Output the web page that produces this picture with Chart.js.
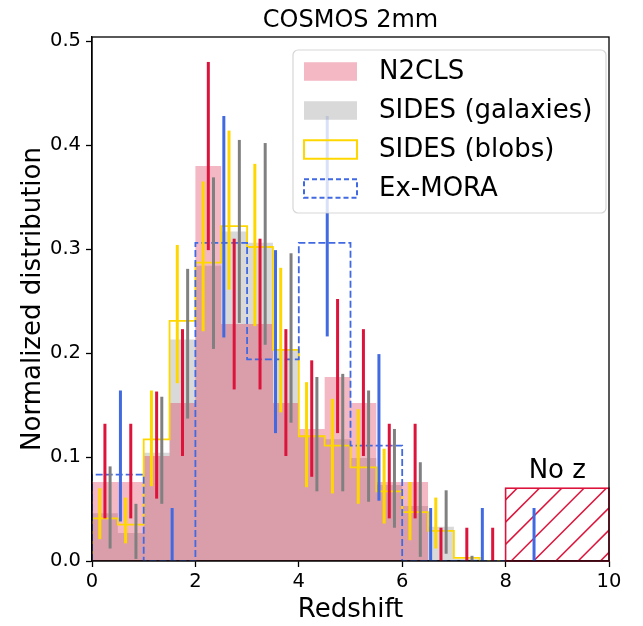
<!DOCTYPE html>
<html lang="en">
<head>
  <meta charset="UTF-8">
  <title>COSMOS 2mm</title>
  <script src="https://cdn.jsdelivr.net/npm/chart.js"></script>
  <style>
    html, body { margin: 0; padding: 0; background: #fff; }
    canvas { display: block; }
  </style>
</head>
<body>
  <canvas id="zChart" width="643" height="626"></canvas>

  <script>
    // histogram bin edges
    const edgesFine = [0, 0.5, 1, 1.5, 2, 2.5, 3, 3.5, 4, 4.5, 5, 5.5, 6, 6.5, 7, 7.5, 8];
    const edgesCoarse = [0, 1, 2, 3, 4, 5, 6, 7, 8];

    // normalized distributions
    const n2cls         = [0.076, 0.076, 0.101, 0.152, 0.380, 0.228, 0.228, 0.152, 0.127, 0.177, 0.152, 0.076, 0.076, 0, 0, 0];
    const sidesGalaxies = [0.046, 0.027, 0.104, 0.213, 0.284, 0.317, 0.306, 0.203, 0.121, 0.117, 0.099, 0.073, 0.053, 0.033, 0.002, 0];
    const sidesBlobs    = [0.041, 0.035, 0.117, 0.231, 0.287, 0.322, 0.302, 0.203, 0.120, 0.111, 0.090, 0.067, 0.047, 0.029, 0.003, 0];
    const exMora        = [0.083, 0, 0.306, 0.194, 0.306, 0.111, 0, 0];

    // error bars (position, lower, upper)
    const n2clsErrX  = [0.25, 0.75, 1.25, 1.75, 2.25, 2.75, 3.25, 3.75, 4.25, 4.75, 5.25, 5.75, 6.25, 6.75, 7.25, 7.75];
    const n2clsErrLo = [0.041, 0.041, 0.060, 0.101, 0.299, 0.165, 0.165, 0.101, 0.081, 0.123, 0.101, 0.041, 0.041, 0, 0, 0];
    const n2clsErrHi = [0.132, 0.132, 0.163, 0.223, 0.480, 0.310, 0.310, 0.223, 0.193, 0.252, 0.223, 0.132, 0.132, 0.032, 0.032, 0.032];

    const galErrX  = [0.35, 0.85, 1.35, 1.85, 2.35, 2.85, 3.35, 3.85, 4.35, 4.85, 5.35, 5.85, 6.35, 6.85, 7.35];
    const galErrLo = [0.012, 0.002, 0.055, 0.137, 0.204, 0.229, 0.208, 0.133, 0.067, 0.067, 0.057, 0.032, 0.004, 0.007, 0];
    const galErrHi = [0.091, 0.055, 0.158, 0.281, 0.369, 0.405, 0.402, 0.296, 0.177, 0.180, 0.164, 0.127, 0.095, 0.068, 0.005];

    const blobErrX  = [0.15, 0.65, 1.15, 1.65, 2.15, 2.65, 3.15, 3.65, 4.15, 4.65, 5.15, 5.65, 6.15, 6.65];
    const blobErrLo = [0.021, 0.017, 0.072, 0.171, 0.221, 0.261, 0.226, 0.143, 0.071, 0.065, 0.055, 0.036, 0.020, 0.012];
    const blobErrHi = [0.070, 0.061, 0.164, 0.304, 0.365, 0.414, 0.382, 0.282, 0.172, 0.156, 0.146, 0.108, 0.076, 0.061];

    const moraErrX  = [0.55, 1.55, 2.55, 3.55, 4.55, 5.55, 6.55, 7.55, 8.55];
    const moraErrLo = [0.038, 0, 0.215, 0.123, 0.216, 0.058, 0, 0, 0];
    const moraErrHi = [0.164, 0.051, 0.428, 0.299, 0.428, 0.199, 0.051, 0.051, 0.051];

    // sources without redshift
    const noZRange = [8, 10];
    const noZValue = 0.07;

    const xTicks = [0, 2, 4, 6, 8, 10];
    const yTicks = [0, 0.1, 0.2, 0.3, 0.4, 0.5];

    const CRIMSON = '#dc143c';
    const GOLD = '#ffd700';
    const ROYAL = '#4169e1';
    const GRAY = '#808080';
    const FONT = "'DejaVu Sans', sans-serif";

    // step points for stepped: 'before' (horizontal at the bin value, then vertical)
    function stepFill(edges, vals) {
      const pts = vals.map((v, i) => ({ x: edges[i], y: v }));
      pts.push({ x: edges[vals.length], y: vals[vals.length - 1] });
      return pts;
    }
    function stepOutline(edges, vals) {
      const pts = [{ x: edges[0], y: 0 }];
      vals.forEach((v, i) => pts.push({ x: edges[i], y: v }));
      pts.push({ x: edges[vals.length], y: 0 });
      return pts;
    }

    const errorSets = [
      { xs: n2clsErrX, lo: n2clsErrLo, hi: n2clsErrHi, color: CRIMSON },
      { xs: galErrX, lo: galErrLo, hi: galErrHi, color: GRAY },
      { xs: blobErrX, lo: blobErrLo, hi: blobErrHi, color: GOLD },
      { xs: moraErrX, lo: moraErrLo, hi: moraErrHi, color: ROYAL }
    ];

    const legendItems = [
      { label: 'N2CLS', fill: 'rgba(220,20,60,0.3)' },
      { label: 'SIDES (galaxies)', fill: 'rgba(128,128,128,0.3)' },
      { label: 'SIDES (blobs)', stroke: GOLD },
      { label: 'Ex-MORA', stroke: ROYAL, dash: [5, 3] }
    ];

    const extras = {
      id: 'extras',
      afterDatasetsDraw(chart) {
        const { ctx, chartArea: a, scales: { x, y } } = chart;
        ctx.save();

        // hatched No z box
        const hx0 = x.getPixelForValue(noZRange[0]), hx1 = x.getPixelForValue(noZRange[1]);
        const hyb = y.getPixelForValue(0), hyt = y.getPixelForValue(noZValue);
        ctx.save();
        ctx.beginPath();
        ctx.rect(hx0, hyt, hx1 - hx0, hyb - hyt);
        ctx.clip();
        ctx.strokeStyle = CRIMSON;
        ctx.lineWidth = 1.5;
        for (let c = hx0 + hyt + 11.5 - 22.3 * 6; c < hx1 + hyb + 22; c += 22.3) {
          ctx.beginPath();
          ctx.moveTo(c - hyb, hyb);
          ctx.lineTo(c - hyt, hyt);
          ctx.stroke();
        }
        ctx.restore();
        ctx.strokeStyle = CRIMSON;
        ctx.lineWidth = 1.6;
        ctx.strokeRect(hx0, hyt, hx1 - hx0, hyb - hyt);

        ctx.fillStyle = '#000';
        ctx.font = '26px ' + FONT;
        ctx.textAlign = 'center';
        ctx.textBaseline = 'alphabetic';
        ctx.fillText('No z', (hx0 + hx1) / 2, hyt - 10);

        // error bars
        ctx.lineWidth = 3;
        ctx.lineCap = 'butt';
        errorSets.forEach(s => {
          ctx.strokeStyle = s.color;
          s.xs.forEach((xv, i) => {
            const px = x.getPixelForValue(xv);
            ctx.beginPath();
            ctx.moveTo(px, y.getPixelForValue(s.lo[i]));
            ctx.lineTo(px, y.getPixelForValue(s.hi[i]));
            ctx.stroke();
          });
        });

        // legend
        const lx = a.right - 316, ly = a.top + 13, lw = 313, lh = 163;
        ctx.beginPath();
        ctx.roundRect(lx, ly, lw, lh, 5);
        ctx.fillStyle = 'rgba(255,255,255,0.8)';
        ctx.fill();
        ctx.strokeStyle = 'rgba(204,204,204,0.8)';
        ctx.lineWidth = 1.2;
        ctx.stroke();
        ctx.font = '26px ' + FONT;
        ctx.textAlign = 'left';
        ctx.textBaseline = 'middle';
        legendItems.forEach((it, i) => {
          const cy = ly + 21.5 + i * 39;
          const bx = lx + 11, bw = 53, bh = 18.5;
          if (it.fill) {
            ctx.fillStyle = it.fill;
            ctx.fillRect(bx, cy - bh / 2, bw, bh);
          } else {
            ctx.strokeStyle = it.stroke;
            ctx.lineWidth = 2;
            ctx.setLineDash(it.dash || []);
            ctx.strokeRect(bx, cy - bh / 2, bw, bh);
            ctx.setLineDash([]);
          }
          ctx.fillStyle = '#000';
          ctx.fillText(it.label, lx + 86, cy + 1);
        });

        ctx.restore();
      },
      afterDraw(chart) {
        const { ctx, chartArea: a } = chart;
        ctx.save();
        ctx.strokeStyle = '#000';
        ctx.lineWidth = 1.3;
        ctx.strokeRect(a.left, a.top, a.right - a.left, a.bottom - a.top);

        ctx.fillStyle = '#000';
        ctx.textAlign = 'center';
        ctx.textBaseline = 'alphabetic';
        ctx.font = '24px ' + FONT;
        ctx.fillText('COSMOS 2mm', (a.left + a.right) / 2, 27);
        ctx.font = '26px ' + FONT;
        ctx.fillText('Redshift', (a.left + a.right) / 2, 617);
        ctx.translate(40, (a.top + a.bottom) / 2);
        ctx.rotate(-Math.PI / 2);
        ctx.fillText('Normalized distribution', 0, 0);
        ctx.restore();
      }
    };

    const ctx = document.getElementById('zChart').getContext('2d');
    new Chart(ctx, {
      type: 'line',
      data: {
        datasets: [
          {
            label: 'SIDES (galaxies)',
            data: stepFill(edgesFine, sidesGalaxies),
            stepped: 'before',
            fill: 'origin',
            backgroundColor: 'rgba(128,128,128,0.3)',
            borderColor: 'rgba(0,0,0,0)',
            borderWidth: 0,
            pointRadius: 0,
            order: 4
          },
          {
            label: 'N2CLS',
            data: stepFill(edgesFine, n2cls),
            stepped: 'before',
            fill: 'origin',
            backgroundColor: 'rgba(220,20,60,0.3)',
            borderColor: 'rgba(0,0,0,0)',
            borderWidth: 0,
            pointRadius: 0,
            order: 3
          },
          {
            label: 'SIDES (blobs)',
            data: stepOutline(edgesFine, sidesBlobs),
            stepped: 'before',
            fill: false,
            borderColor: GOLD,
            borderWidth: 1.8,
            pointRadius: 0,
            order: 2
          },
          {
            label: 'Ex-MORA',
            data: stepOutline(edgesCoarse, exMora),
            stepped: 'before',
            fill: false,
            borderColor: ROYAL,
            borderWidth: 1.8,
            borderDash: [7, 3],
            pointRadius: 0,
            order: 1
          }
        ]
      },
      options: {
        responsive: false,
        animation: false,
        devicePixelRatio: 1,
        layout: { padding: { left: 0, top: 37, right: 34, bottom: 0 } },
        plugins: {
          legend: { display: false },
          tooltip: { enabled: false }
        },
        scales: {
          x: {
            type: 'linear',
            min: 0,
            max: 10,
            afterFit: s => { s.height = 65; },
            afterBuildTicks: s => { s.ticks = xTicks.map(v => ({ value: v })); },
            ticks: {
              color: '#000',
              font: { family: FONT, size: 19.5 },
              padding: 3,
              maxRotation: 0,
              callback: v => String(v)
            },
            grid: { drawOnChartArea: false, drawTicks: true, tickLength: 6, tickWidth: 1.3, tickColor: '#000' },
            border: { display: true, color: '#000', width: 1.3 }
          },
          y: {
            min: 0,
            max: 0.504,
            afterFit: s => { s.width = 92; },
            afterBuildTicks: s => { s.ticks = yTicks.map(v => ({ value: v })); },
            ticks: {
              color: '#000',
              font: { family: FONT, size: 19.5 },
              padding: 5,
              callback: v => v.toFixed(1)
            },
            grid: { drawOnChartArea: false, drawTicks: true, tickLength: 6, tickWidth: 1.3, tickColor: '#000' },
            border: { display: true, color: '#000', width: 1.3 }
          }
        }
      },
      plugins: [extras]
    });
  </script>
</body>
</html>
